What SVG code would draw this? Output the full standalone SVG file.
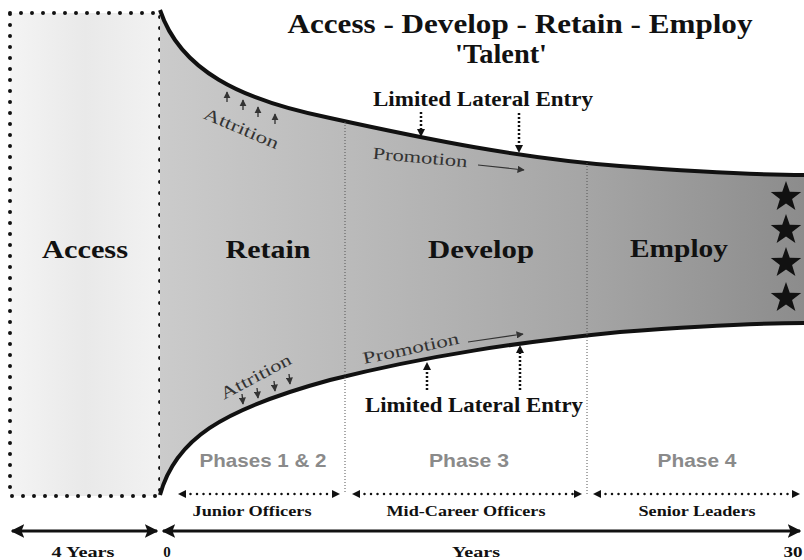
<svg xmlns="http://www.w3.org/2000/svg" width="804" height="560" viewBox="0 0 804 560">
<defs>
<linearGradient id="fun" x1="160" y1="0" x2="804" y2="0" gradientUnits="userSpaceOnUse">
<stop offset="0" stop-color="#cbcbcb"/>
<stop offset="0.3" stop-color="#bababa"/>
<stop offset="0.65" stop-color="#a6a6a6"/>
<stop offset="1" stop-color="#8c8c8c"/>
</linearGradient>
<linearGradient id="acc" x1="0" y1="0" x2="1" y2="0">
<stop offset="0" stop-color="#f4f4f4"/>
<stop offset="0.5" stop-color="#e9e9e9"/>
<stop offset="1" stop-color="#f2f2f2"/>
</linearGradient>
<marker id="ah" viewBox="0 0 10 10" refX="9" refY="5" markerWidth="4.5" markerHeight="4.5" orient="auto-start-reverse" markerUnits="strokeWidth">
<path d="M0,0 L10,5 L0,10 L2,5 Z" fill="#111"/>
</marker>
<marker id="ahp" viewBox="0 0 10 10" refX="9" refY="5" markerWidth="6" markerHeight="6" orient="auto" markerUnits="strokeWidth">
<path d="M0,0 L10,5 L0,10 Z" fill="#333"/>
</marker>
<path id="star" d="M0,-16 L3.76,-5.18 L15.22,-4.94 L6.09,1.98 L9.4,12.94 L0,6.4 L-9.4,12.94 L-6.09,1.98 L-15.22,-4.94 L-3.76,-5.18 Z"/>
<style>
.serif{font-family:"Liberation Serif","Times New Roman",serif;font-weight:bold;fill:#111}
.title{font-size:27px}
.big{font-size:26px}
.lat{font-size:21px}
.small{font-size:15px}
.phase{font-family:"Liberation Sans",Arial,sans-serif;font-weight:bold;font-size:19px;fill:#8a8a8a}
.lab{font-family:"Liberation Serif","Times New Roman",serif;font-size:17px;fill:#333}
.dotbox{fill:none;stroke:#111;stroke-width:4;stroke-dasharray:0 11;stroke-linecap:round}
.dotarr{fill:none;stroke:#111;stroke-width:2.5;stroke-dasharray:0 6.5;stroke-linecap:round}
.vdot{fill:none;stroke:#111;stroke-width:2.5;stroke-dasharray:2 2}
.sep{fill:none;stroke:#555;stroke-width:1;stroke-dasharray:1 2}
.solid{fill:none;stroke:#111;stroke-width:3}
.att{fill:none;stroke:#222;stroke-width:1.2}
</style>
</defs>
<rect width="804" height="560" fill="#fff"/>

<g id="access">
<rect x="10" y="13" width="150" height="483" fill="url(#acc)"/>
<rect x="10" y="13" width="150" height="483" class="dotbox"/>
<text class="serif big" x="85" y="258" text-anchor="middle" textLength="86" lengthAdjust="spacingAndGlyphs">Access</text>
</g>

<g id="funnel">
<path d="M160,10 C180,70 240,100 330,118 C430,140 520,158 620,166 C700,172 760,175 804,175 L804,323 C760,323 700,326 620,332 C520,342 430,355 330,380 C220,410 175,440 160,495 Z" fill="url(#fun)"/>
<path d="M160,10 C180,70 240,100 330,118 C430,140 520,158 620,166 C700,172 760,175 804,175" fill="none" stroke="#111" stroke-width="4"/>
<path d="M160,495 C175,440 220,410 330,380 C430,355 520,342 620,332 C700,326 760,323 804,323" fill="none" stroke="#111" stroke-width="4"/>
</g>

<g id="separators">
<line x1="345" y1="122" x2="345" y2="494" class="sep"/>
<line x1="587" y1="163" x2="587" y2="494" class="sep"/>
</g>

<g id="title">
<text class="serif title" x="520" y="33" text-anchor="middle" textLength="465" lengthAdjust="spacingAndGlyphs">Access - Develop - Retain - Employ</text>
<text class="serif title" x="501" y="63" text-anchor="middle" textLength="92" lengthAdjust="spacingAndGlyphs">'Talent'</text>
</g>

<g id="retain">
<text class="serif big" x="268" y="258" text-anchor="middle" textLength="85" lengthAdjust="spacingAndGlyphs">Retain</text>
</g>
<g id="develop">
<text class="serif big" x="481" y="258" text-anchor="middle" textLength="106" lengthAdjust="spacingAndGlyphs">Develop</text>
</g>
<g id="employ">
<text class="serif big" x="679" y="257" text-anchor="middle" textLength="98" lengthAdjust="spacingAndGlyphs" fill="#222">Employ</text>
<use href="#star" x="786" y="197" fill="#111"/>
<use href="#star" x="786" y="230" fill="#111"/>
<use href="#star" x="786" y="263" fill="#111"/>
<use href="#star" x="786" y="298" fill="#111"/>
</g>

<g id="attrition-top">
<text class="lab" x="241" y="134" text-anchor="middle" textLength="80" lengthAdjust="spacingAndGlyphs" transform="rotate(23 241 129)">Attrition</text>
</g>
<g id="attrition-bottom">
<text class="lab" x="256" y="382" text-anchor="middle" textLength="78" lengthAdjust="spacingAndGlyphs" transform="rotate(-28 256 377)">Attrition</text>
</g>
<g id="promotion-top">
<text class="lab" x="420" y="163" text-anchor="middle" textLength="95" lengthAdjust="spacingAndGlyphs" transform="rotate(5 420 158)">Promotion</text>
</g>
<g id="promotion-bottom">
<text class="lab" x="411" y="354" text-anchor="middle" textLength="98" lengthAdjust="spacingAndGlyphs" transform="rotate(-12 411 349)">Promotion</text>
</g>

<g id="lateral-top">
<text class="serif lat" x="483" y="106" text-anchor="middle" textLength="220" lengthAdjust="spacingAndGlyphs">Limited Lateral Entry</text>
</g>
<g id="lateral-bottom">
<text class="serif lat" x="474" y="412" text-anchor="middle" textLength="218" lengthAdjust="spacingAndGlyphs">Limited Lateral Entry</text>
</g>

<g id="phases">
<text class="phase" x="263" y="467" text-anchor="middle" textLength="127" lengthAdjust="spacingAndGlyphs">Phases 1 &amp; 2</text>
<text class="phase" x="469" y="467" text-anchor="middle" textLength="80" lengthAdjust="spacingAndGlyphs">Phase 3</text>
<text class="phase" x="697" y="467" text-anchor="middle" textLength="79" lengthAdjust="spacingAndGlyphs">Phase 4</text>
</g>

<g id="groups">
<text class="serif small" x="252" y="516" text-anchor="middle" textLength="119" lengthAdjust="spacingAndGlyphs">Junior Officers</text>
<text class="serif small" x="466" y="516" text-anchor="middle" textLength="159" lengthAdjust="spacingAndGlyphs">Mid-Career Officers</text>
<text class="serif small" x="697" y="516" text-anchor="middle" textLength="117" lengthAdjust="spacingAndGlyphs">Senior Leaders</text>
</g>

<g id="axis">
<text class="serif small" x="83" y="557" text-anchor="middle" textLength="63" lengthAdjust="spacingAndGlyphs">4 Years</text>
<text class="serif small" x="167" y="557" text-anchor="middle">0</text>
<text class="serif small" x="476" y="557" text-anchor="middle" textLength="48" lengthAdjust="spacingAndGlyphs">Years</text>
<text class="serif small" x="793" y="557" text-anchor="middle" textLength="19" lengthAdjust="spacingAndGlyphs">30</text>
</g>

<g id="connectors">
<line x1="12" y1="531" x2="157" y2="531" class="solid" marker-start="url(#ah)" marker-end="url(#ah)"/>
<line x1="163" y1="531" x2="800" y2="531" class="solid" marker-start="url(#ah)" marker-end="url(#ah)"/>
<line x1="184" y1="494" x2="334" y2="494" class="dotarr"/>
<path d="M178,494 l8,-4 v8 z M340,494 l-8,-4 v8 z" fill="#111"/>
<line x1="358" y1="494" x2="576" y2="494" class="dotarr"/>
<path d="M352,494 l8,-4 v8 z M582,494 l-8,-4 v8 z" fill="#111"/>
<line x1="599" y1="494" x2="794" y2="494" class="dotarr"/>
<path d="M593,494 l8,-4 v8 z M800,494 l-8,-4 v8 z" fill="#111"/>

<line x1="421" y1="112" x2="421" y2="129" class="vdot"/>
<path d="M421,137 l-4,-8 h8 z" fill="#111"/>
<line x1="519" y1="113" x2="519" y2="145" class="vdot"/>
<path d="M519,153 l-4,-8 h8 z" fill="#111"/>
<line x1="427" y1="390" x2="427" y2="370" class="vdot"/>
<path d="M427,362 l-4,8 h8 z" fill="#111"/>
<line x1="520" y1="390" x2="520" y2="353" class="vdot"/>
<path d="M520,345 l-4,8 h8 z" fill="#111"/>

<line x1="478" y1="165" x2="524" y2="170" stroke="#333" stroke-width="1.2" marker-end="url(#ahp)"/>
<line x1="468" y1="342" x2="523" y2="334" stroke="#333" stroke-width="1.2" marker-end="url(#ahp)"/>

<line x1="227" y1="102" x2="227" y2="92" class="att" marker-end="url(#ahp)"/>
<line x1="243" y1="110" x2="243" y2="100" class="att" marker-end="url(#ahp)"/>
<line x1="258" y1="117" x2="258" y2="107" class="att" marker-end="url(#ahp)"/>
<line x1="275" y1="124" x2="275" y2="114" class="att" marker-end="url(#ahp)"/>
<line x1="242" y1="394" x2="243" y2="404" class="att" marker-end="url(#ahp)"/>
<line x1="257" y1="388" x2="258" y2="398" class="att" marker-end="url(#ahp)"/>
<line x1="274" y1="381" x2="275" y2="391" class="att" marker-end="url(#ahp)"/>
<line x1="289" y1="374" x2="290" y2="384" class="att" marker-end="url(#ahp)"/>
</g>
</svg>
